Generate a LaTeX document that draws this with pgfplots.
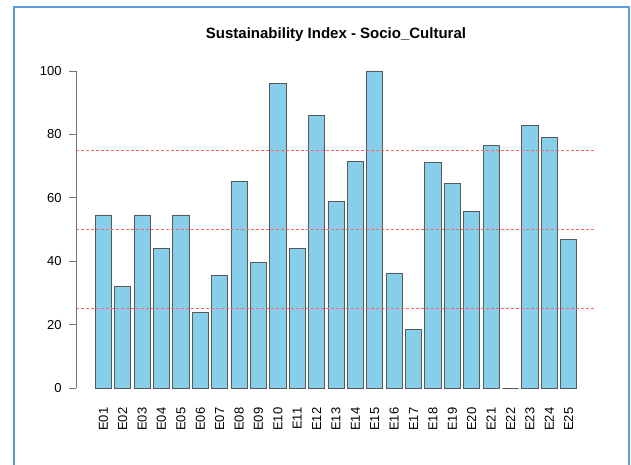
\documentclass[border=0pt]{standalone}
\usepackage{fontspec}
\setmainfont{Liberation Sans}
\usepackage{pgfplots}
\pgfplotsset{compat=1.18}
\definecolor{frameblue}{RGB}{91,155,213}
\definecolor{skyblue}{RGB}{135,206,235}
\definecolor{refline}{RGB}{255,100,100}
\begin{document}
\begin{tikzpicture}
\useasboundingbox (0pt,0pt) rectangle (631pt,465pt);
\draw[frameblue, line width=2pt] (14pt,-3pt) -- (14pt,457.7pt) -- (629.3pt,457.7pt) -- (629.3pt,-3pt);
\begin{axis}[
  at={(76pt,64.3pt)}, anchor=south west,
  scale only axis, width=520pt, height=342.4pt,
  xmin=-0.41, xmax=26.41, ymin=-4, ymax=104,
  axis lines*=left, axis line style={draw=none},
  ytick={0,20,40,60,80,100},
  xtick={1,...,25},
  xticklabels={E01,E02,E03,E04,E05,E06,E07,E08,E09,E10,E11,E12,E13,E14,E15,E16,E17,E18,E19,E20,E21,E22,E23,E24,E25},
  tick align=outside,
  major tick length=6.7pt,
  ytick style={black!55, line width=0.8pt},
  xtick style={draw=none},
  yticklabel style={font=\fontsize{13}{15}\selectfont, inner sep=0pt, xshift=-7.5pt},
  xticklabel style={font=\fontsize{13}{15}\selectfont, rotate=90, anchor=east, inner sep=0pt},
  xticklabel shift=0pt,
  /pgf/number format/assume math mode=true,
  title={Sustainability Index - Socio\_Cultural},
  title style={font=\fontsize{15}{18}\selectfont\bfseries, at={(0.5,1)}, anchor=base, yshift=13.3pt},
  clip=false,
]
\addplot[ybar, bar width=0.8333, bar shift=0pt, fill=skyblue, draw=black!65, line width=0.8pt]
  coordinates {
  (1,54.6) (2,32.1) (3,54.6) (4,44.1) (5,54.6) (6,23.9) (7,35.5) (8,65.2)
  (9,39.6) (10,96.1) (11,44.1) (12,86.0) (13,58.9) (14,71.5) (15,100)
  (16,36.3) (17,18.6) (18,71.2) (19,64.6) (20,55.7) (21,76.4) (22,0)
  (23,82.8) (24,79.0) (25,46.9)
  };
\addplot[refline, line width=0.6pt, dash pattern=on 3pt off 2pt] coordinates {(-0.41,25) (26.41,25)};
\addplot[refline, line width=0.6pt, dash pattern=on 3pt off 2pt] coordinates {(-0.41,50) (26.41,50)};
\addplot[refline, line width=0.6pt, dash pattern=on 3pt off 2pt] coordinates {(-0.41,75) (26.41,75)};
\addplot[black!55, line width=0.8pt] coordinates {(-0.41,0) (-0.41,100)};
\end{axis}
\end{tikzpicture}
\end{document}
